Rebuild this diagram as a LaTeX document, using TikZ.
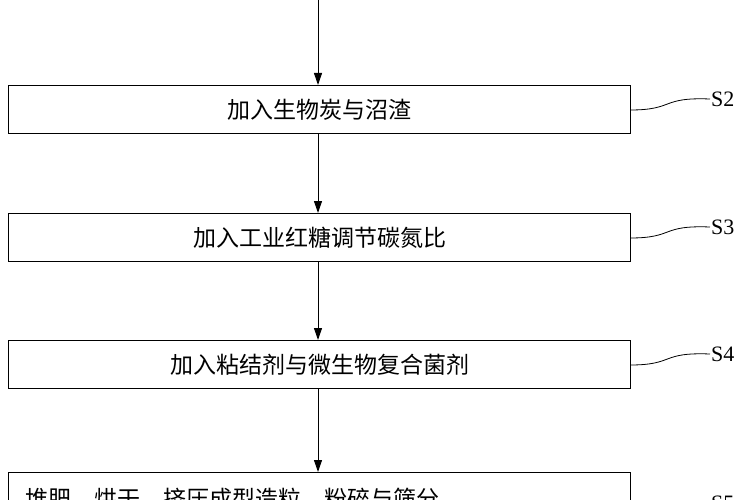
\documentclass[tikz,border=0pt]{standalone}
\usepackage{fontspec}
\newfontfamily\cjk{Noto Sans CJK SC}
\setmainfont{Liberation Serif}
\usetikzlibrary{arrows.meta}
\begin{document}
\begin{tikzpicture}[x=1pt,y=-1pt,
  stepbox/.style={draw,line width=1pt,minimum width=622pt,minimum height=48pt,anchor=north west,inner sep=0pt},
  flow/.style={-{Triangle[length=12pt,width=8pt]},line width=1pt},
  lead/.style={line width=0.8pt},
  txt/.style={font=\cjk\fontsize{23}{27}\selectfont},
  lab/.style={font=\fontsize{22}{26}\selectfont,anchor=west,inner sep=1pt}]
\path[use as bounding box] (0,0) rectangle (750,500);
\begin{scope}
\clip (0,0) rectangle (750,500);
\coordinate (top) at (318,-2);
\node[stepbox] (b2) at (8,85) {};
\node[txt] at (b2.center) {加入生物炭与沼渣};
\node[stepbox] (b3) at (8,213) {};
\node[txt] at (b3.center) {加入工业红糖调节碳氮比};
\node[stepbox] (b4) at (8,340) {};
\node[txt] at (b4.center) {加入粘结剂与微生物复合菌剂};
\node[stepbox,minimum height=60pt] (b5) at (8,472) {};
\node[txt,anchor=west] at (22,499) {堆肥、烘干、挤压成型造粒、粉碎与筛分，};
\draw[flow] (top) -- (318,85);
\draw[flow] (b2.south -| top) -- (b3.north -| top);
\draw[flow] (b3.south -| top) -- (b4.north -| top);
\draw[flow] (b4.south -| top) -- (b5.north -| top);
\foreach \b/\s/\y in {b2/S2/99,b3/S3/227,b4/S4/354}{
  \node[lab] (l\s) at (710,\y) {\s};
  \draw[lead] (630,\y+11) .. controls (675,\y+11) and (660,\y-2) .. (l\s.west);
}
\node[lab] (lS5) at (710,503) {S5};
\end{scope}
\end{tikzpicture}
\end{document}
